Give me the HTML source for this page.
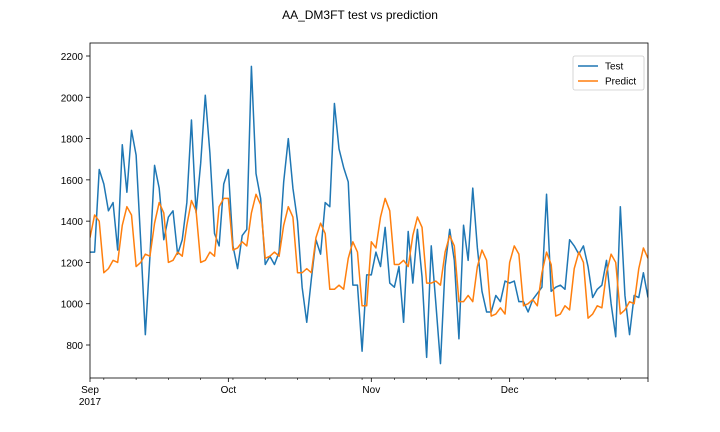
<!DOCTYPE html>
<html><head><meta charset="utf-8"><style>
body{margin:0;background:#fff;}
svg{display:block;font-family:"Liberation Sans","DejaVu Sans",sans-serif;}
</style></head><body>
<svg id="chart" width="720" height="432">
<text x="360" y="19" text-anchor="middle" font-size="12">AA_DM3FT test vs prediction</text>
<g id="plot"></g>
</svg>
<script>
const testValues=[1250,1250,1650,1580,1450,1490,1260,1770,1540,1840,1720,1300,850,1230,1670,1560,1310,1420,1450,1240,1310,1490,1890,1440,1680,2010,1730,1340,1280,1580,
1650,1280,1170,1330,1360,2150,1630,1510,1190,1230,1190,1250,1590,1800,1560,1400,1080,910,1120,1310,1240,1490,1470,1970,1750,1660,1590,1090,1090,770,1140,
1140,1250,1180,1370,1100,1080,1180,910,1350,1100,1360,1130,740,1280,1000,710,1180,1360,1210,830,1380,1210,1560,1270,1060,960,960,1040,1010,1110,
1100,1110,1010,1010,960,1020,1050,1080,1530,1060,1080,1090,1070,1310,1280,1240,1280,1180,1030,1070,1090,1210,1000,840,1470,1040,850,1040,1030,1150,1030];
const predictValues=[1320,1430,1400,1150,1170,1210,1200,1380,1470,1430,1180,1200,1240,1230,1390,1490,1440,1200,1210,1250,1230,1380,1500,1450,1200,1210,1250,1230,1470,1510,
1510,1260,1270,1300,1280,1440,1530,1480,1220,1230,1250,1230,1380,1470,1420,1150,1150,1170,1150,1320,1390,1340,1070,1070,1090,1070,1220,1300,1250,990,990,
1300,1270,1420,1510,1450,1190,1190,1210,1180,1330,1420,1370,1100,1100,1110,1090,1250,1330,1280,1010,1010,1040,1010,1180,1260,1210,940,950,980,950,
1200,1280,1240,990,1000,1020,990,1150,1250,1190,940,950,990,970,1170,1250,1200,930,950,990,980,1150,1240,1200,950,970,1010,1000,1170,1270,1220];
const yTicks=[800,1000,1200,1400,1600,1800,2000,2200];
const monthLabels=["Sep","Oct","Nov","Dec"];
const monthStartDays=[0,30,61,91];
const NS="http://www.w3.org/2000/svg";
const L=90,R=648,T=43,B=378;
const x=d=>L+d*(R-L)/121;
const y=v=>56+(2200-v)*289/1400;
const g=document.getElementById('plot');
function mk(tag,attrs,parent){const e=document.createElementNS(NS,tag);for(const k in attrs)e.setAttribute(k,attrs[k]);(parent||g).appendChild(e);return e;}
// y ticks
yTicks.forEach(v=>{
 const t=mk('line',{x1:L-4,x2:L,y1:y(v),y2:y(v),stroke:'#000','stroke-width':0.8});
 
 
 const tx=mk('text',{x:L-7,y:y(v)+4,'text-anchor':'end','font-size':10});
 tx.textContent=v;
 
 
});
// minor weekly ticks
for(let d=3;d<=121;d+=7){
 const t=mk('line',{x1:x(d),x2:x(d),y1:B,y2:B+2,stroke:'#000','stroke-width':0.6});
 
 
}
// major month ticks
monthStartDays.concat([121]).forEach((d,i)=>{
 const t=mk('line',{x1:x(d),x2:x(d),y1:B,y2:B+4,stroke:'#000','stroke-width':0.8});
 
 
 if(i<monthLabels.length){
  const tx=mk('text',{x:x(d),y:B+15,'text-anchor':'middle','font-size':10});
  tx.textContent=monthLabels[i];
  
  
 }
});
const yr=mk('text',{x:x(0),y:B+27,'text-anchor':'middle','font-size':10});
yr.textContent='2017';


function line(vals,color,name){
 const p=mk('polyline',{points:vals.map((v,i)=>x(i)+','+y(v)).join(' '),fill:'none',stroke:color,'stroke-width':1.5,'stroke-linejoin':'round'});
 
 
}
const clip=mk('clipPath',{id:'c'});mk('rect',{x:L,y:T,width:R-L,height:B-T},clip);
line(testValues,'#1f77b4','test-line');
line(predictValues,'#ff7f0e','predict-line');
document.querySelectorAll('polyline').forEach(p=>p.setAttribute('clip-path','url(#c)'));
const frame=mk('rect',{x:L,y:T,width:R-L,height:B-T,fill:'none',stroke:'#000','stroke-width':0.8});


// legend
const lg=mk('g',{});


mk('rect',{x:573,y:56,width:71,height:34,rx:2,fill:'#fff',stroke:'#ccc','stroke-width':0.8},lg);
[['Test','#1f77b4',66],['Predict','#ff7f0e',81]].forEach(([n,c,yy])=>{
 const e=mk('g',{},lg);
 
 
 mk('line',{x1:578,x2:598,y1:yy,y2:yy,stroke:c,'stroke-width':1.5},e);
 const t=mk('text',{x:605,y:yy+3.5,'font-size':10},e);t.textContent=n;
});
</script>
</body></html>
